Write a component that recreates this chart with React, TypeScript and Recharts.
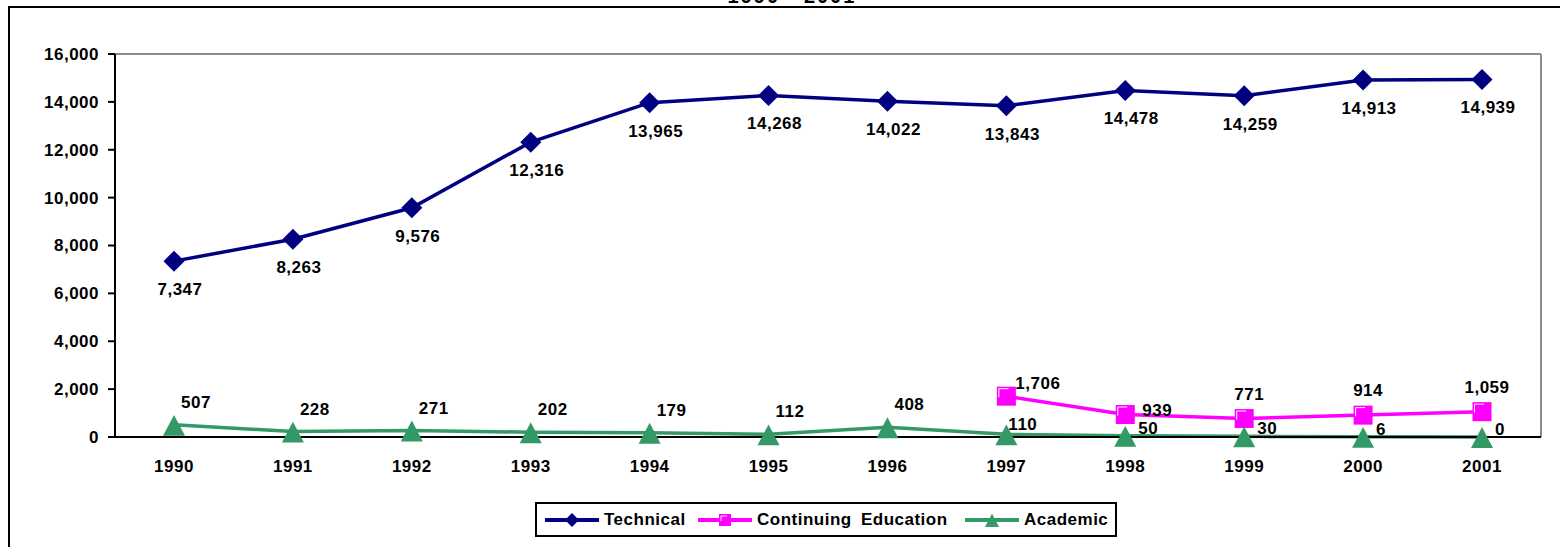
import React from "react";
import { LineChart, Line, XAxis, YAxis, LabelList, CartesianGrid } from "recharts";

const years = ["1990", "1991", "1992", "1993", "1994", "1995", "1996", "1997", "1998", "1999", "2000", "2001"];
const technical = [7347, 8263, 9576, 12316, 13965, 14268, 14022, 13843, 14478, 14259, 14913, 14939];
const continuingEducation = [null, null, null, null, null, null, null, 1706, 939, 771, 914, 1059];
const academic = [507, 228, 271, 202, 179, 112, 408, 110, 50, 30, 6, 0];
const yTicks = [0, 2000, 4000, 6000, 8000, 10000, 12000, 14000, 16000];

const data = years.map((year, i) => ({
  year,
  technical: technical[i],
  continuing: continuingEducation[i],
  academic: academic[i],
}));

const FONT = '"Liberation Sans", Arial, Helvetica, sans-serif';
const NAVY = "#000080";
const MAGENTA = "#FF00FF";
const GREEN = "#339966";

const fmt = (v: number) => v.toLocaleString("en-US");

const textStyle = {
  fontFamily: FONT,
  fontWeight: 700,
  fontSize: 17,
  letterSpacing: 0.5,
  fill: "#000",
} as const;

// markers
const diamond = (cx: number, cy: number, r: number, key?: any) => (
  <polygon
    key={key}
    points={`${cx},${cy - r} ${cx + r},${cy} ${cx},${cy + r} ${cx - r},${cy}`}
    fill={NAVY}
  />
);

const square = (cx: number, cy: number, s: number, key?: any) => (
  <g key={key}>
    <rect x={cx - s / 2} y={cy - s / 2} width={s} height={s} fill={MAGENTA} />
    <polyline
      points={`${cx - s / 2 + 2},${cy + 1} ${cx - s / 2 + 2},${cy - s / 2 + 2} ${cx + 2},${cy - s / 2 + 2}`}
      fill="none"
      stroke="#fff"
      strokeWidth={1}
    />
  </g>
);

const triangle = (cx: number, cy: number, w: number, key?: any) => (
  <polygon
    key={key}
    points={`${cx},${cy - w * 0.45} ${cx + w / 2},${cy + w / 2} ${cx - w / 2},${cy + w / 2}`}
    fill={GREEN}
  />
);

const renderDiamond = (p: any) =>
  p.cy == null || p.value == null ? <g key={p.index} /> : diamond(p.cx, p.cy, 10.5, p.index);
const renderSquare = (p: any) =>
  p.cy == null || p.value == null ? <g key={p.index} /> : square(p.cx, p.cy, 19, p.index);
const renderTriangle = (p: any) =>
  p.cy == null || p.value == null ? <g key={p.index} /> : triangle(p.cx, p.cy, 22, p.index);

// data labels
const techLabel = (p: any) => {
  if (p.value == null) return null;
  return (
    <text x={p.x + 6} y={p.y + 34} textAnchor="middle" style={textStyle}>
      {fmt(p.value)}
    </text>
  );
};

const contLabel = (p: any) => {
  if (p.value == null) return null;
  let x = p.x + 5;
  let y = p.y - 19;
  let anchor = "middle";
  if (p.index === 7) {
    x = p.x + 9;
    y = p.y - 7;
    anchor = "start";
  } else if (p.index === 8) {
    x = p.x + 17;
    y = p.y + 1;
    anchor = "start";
  }
  return (
    <text x={x} y={y} textAnchor={anchor} style={textStyle}>
      {fmt(p.value)}
    </text>
  );
};

const acadLabel = (p: any) => {
  if (p.value == null) return null;
  let x = p.x + 7;
  let y = p.y - 17;
  if (p.index === 7) {
    x = p.x + 2;
    y = p.y - 4;
  } else if (p.index > 7) {
    x = p.x + 13;
    y = p.y - 2;
  }
  return (
    <text x={x} y={y} textAnchor="start" style={textStyle}>
      {fmt(p.value)}
    </text>
  );
};

const YTick = (p: any) => (
  <text x={p.x} y={p.y} dy="0.35em" textAnchor="end" style={textStyle}>
    {fmt(p.payload.value)}
  </text>
);

const XTick = (p: any) => (
  <text x={p.x} y={p.y} dy="0.71em" textAnchor="middle" style={textStyle}>
    {p.payload.value}
  </text>
);

const legendItems = [
  { name: "Technical", color: NAVY, left: 7, marker: (cx: number, cy: number) => diamond(cx, cy, 7) },
  { name: "Continuing Education", color: MAGENTA, left: 160, marker: (cx: number, cy: number) => square(cx, cy, 12) },
  { name: "Academic", color: GREEN, left: 427, marker: (cx: number, cy: number) => triangle(cx, cy, 14) },
];

export default function App() {
  return (
    <div
      style={{
        position: "absolute",
        left: 0,
        top: 0,
        width: 1560,
        height: 547,
        overflow: "hidden",
        background: "#fff",
      }}
    >
      {/* outer frame + cut-off title */}
      <div
        style={{
          position: "absolute",
          left: 8,
          top: 6,
          width: 1600,
          height: 600,
          borderLeft: "2px solid #000",
          borderTop: "2px solid #000",
        }}
      />
      <svg width={1560} height={20} style={{ position: "absolute", left: 0, top: 0 }}>
        <text
          x={792}
          y={3}
          textAnchor="middle"
          style={{ ...textStyle, fontSize: 20, letterSpacing: 2 }}
        >
          1990 - 2001
        </text>
      </svg>

      <div style={{ position: "absolute", left: 0, top: 0 }}>
        <LineChart width={1560} height={547} data={data} margin={{ top: 54, right: 19, bottom: 70, left: 0 }}>
          {/* plot-area frame: grey top and right edges */}
          <CartesianGrid
            stroke="#8c8c8c"
            strokeWidth={2}
            horizontalCoordinatesGenerator={(props: any) => (props && props.offset ? [props.offset.top] : [])}
            verticalCoordinatesGenerator={(props: any) =>
              props && props.offset ? [props.offset.left + props.offset.width] : []
            }
          />
          <XAxis
            dataKey="year"
            height={40}
            padding={{ left: 59, right: 59 }}
            tickLine={false}
            tickSize={0}
            tickMargin={23}
            axisLine={{ stroke: "#000", strokeWidth: 2 }}
            tick={<XTick />}
            interval={0}
          />
          <YAxis
            width={115}
            domain={[0, 16000]}
            ticks={yTicks}
            interval={0}
            tickSize={7}
            tickMargin={9}
            tickLine={{ stroke: "#000", strokeWidth: 2 }}
            axisLine={{ stroke: "#000", strokeWidth: 2 }}
            tick={<YTick />}
          />
          <Line
            dataKey="technical"
            stroke={NAVY}
            strokeWidth={3.5}
            dot={renderDiamond}
            activeDot={false}
            isAnimationActive={false}
          >
            <LabelList dataKey="technical" content={techLabel} />
          </Line>
          <Line
            dataKey="continuing"
            stroke={MAGENTA}
            strokeWidth={3.5}
            dot={renderSquare}
            activeDot={false}
            isAnimationActive={false}
          >
            <LabelList dataKey="continuing" content={contLabel} />
          </Line>
          <Line
            dataKey="academic"
            stroke={GREEN}
            strokeWidth={3.5}
            dot={renderTriangle}
            activeDot={false}
            isAnimationActive={false}
          >
            <LabelList dataKey="academic" content={acadLabel} />
          </Line>
        </LineChart>
      </div>

      {/* legend */}
      <div
        style={{
          position: "absolute",
          left: 535,
          top: 502,
          width: 578,
          height: 31,
          border: "2px solid #000",
          background: "#fff",
        }}
      >
        {legendItems.map((it) => (
          <div
            key={it.name}
            style={{
              position: "absolute",
              left: it.left,
              top: 0,
              height: 31,
              display: "flex",
              alignItems: "center",
              whiteSpace: "nowrap",
            }}
          >
            <svg width={56} height={20}>
              <line x1={1} y1={10} x2={55} y2={10} stroke={it.color} strokeWidth={4} />
              {it.marker(28, 10)}
            </svg>
            <span
              style={{
                marginLeft: 4,
                fontFamily: FONT,
                fontWeight: 700,
                fontSize: 17,
                letterSpacing: 0.5,
                wordSpacing: 4,
                color: "#000",
              }}
            >
              {it.name}
            </span>
          </div>
        ))}
      </div>
    </div>
  );
}
